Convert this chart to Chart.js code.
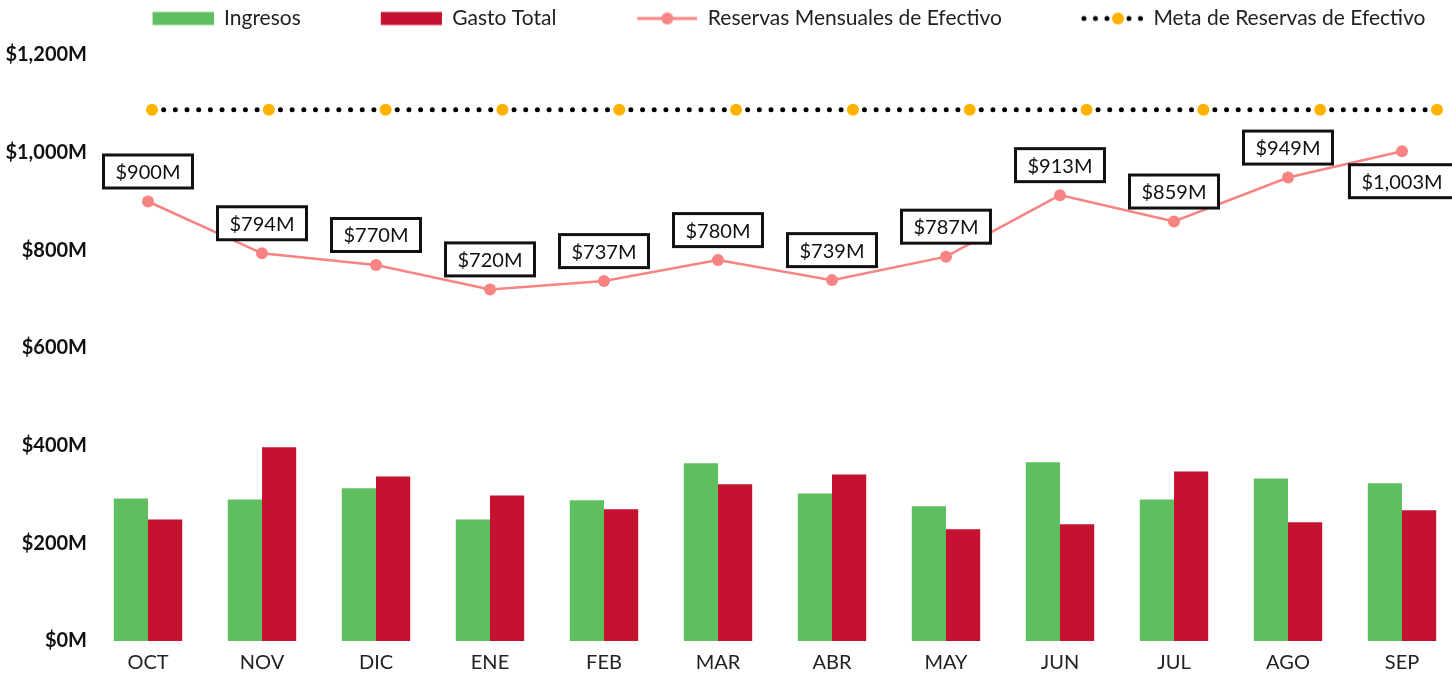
<!DOCTYPE html>
<html lang="es">
<head>
<meta charset="utf-8">
<title>Reservas Mensuales de Efectivo</title>
<script src="https://cdn.jsdelivr.net/npm/chart.js@4.4.1/dist/chart.umd.min.js"></script>
<style>
  html, body { margin: 0; padding: 0; background: #fff; overflow: hidden; }
  #wrap { width: 1506px; height: 674px; }
</style>
</head>
<body>
<div id="wrap"><canvas id="chart"></canvas></div>
<script>
// ─── DATOS ───────────────────────────────────────────
const meses        = ['OCT', 'NOV', 'DIC', 'ENE', 'FEB', 'MAR', 'ABR', 'MAY', 'JUN', 'JUL', 'AGO', 'SEP'];
const ingresos     = [292, 290, 313, 249, 288, 364, 302, 276, 366, 290, 333, 323];
const gastoTotal   = [249, 397, 337, 298, 270, 321, 341, 229, 239, 347, 243, 268];
const reservas     = [900, 794, 770, 720, 737, 780, 739, 787, 913, 859, 949, 1003];
const metaReservas = [1088, 1088, 1088, 1088, 1088, 1088, 1088, 1088, 1088, 1088, 1088, 1088];
const yMin = 0, yMax = 1200, yPaso = 200;

// ─── ESTILO ──────────────────────────────────────────
const VERDE   = '#5fbf60';
const ROJO    = '#c41230';
const CORAL   = '#f88383';
const NARANJA = '#ffb300';
const FUENTE  = 'Lato, "Noto Sans", sans-serif';
const GAP     = 72;   // hueco transparente a la izquierda de cada icono de leyenda
const AREA_DER = 1459;

const fmt = v => '$' + v.toLocaleString('en-US') + 'M';

// iconos de leyenda dibujados en canvas pequeños
function icono(draw) {
  const c = document.createElement('canvas');
  c.width = GAP + 61;
  c.height = 16;
  const g = c.getContext('2d');
  g.translate(GAP, 0);
  draw(g);
  return c;
}

const iconos = {
  'Ingresos': icono(g => { g.fillStyle = VERDE; g.fillRect(0, 1.5, 61, 13); }),
  'Gasto Total': icono(g => { g.fillStyle = ROJO; g.fillRect(0, 1.5, 61, 13); }),
  'Reservas Mensuales de Efectivo': icono(g => {
    g.strokeStyle = CORAL; g.lineWidth = 3;
    g.beginPath(); g.moveTo(1, 8); g.lineTo(61, 8); g.stroke();
    g.fillStyle = CORAL;
    g.beginPath(); g.arc(31, 8, 6, 0, Math.PI * 2); g.fill();
  }),
  'Meta de Reservas de Efectivo': icono(g => {
    [2, 13.5, 25, 47, 58.5].forEach(x => {
      g.fillStyle = '#000';
      g.beginPath(); g.arc(x, 8, 2.5, 0, Math.PI * 2); g.fill();
    });
    g.fillStyle = NARANJA;
    g.beginPath(); g.arc(36, 8, 6, 0, Math.PI * 2); g.fill();
  }),
};
// orden de la leyenda (índices de dataset)
const ordenLeyenda = [1, 2, 3, 0];

// ─── ETIQUETAS DE LA LÍNEA ───────────────────────────
const etiquetas = {
  id: 'etiquetas',
  afterDatasetsDraw(chart) {
    const meta = chart.getDatasetMeta(3);
    const yMeta = chart.scales.y.getPixelForValue(metaReservas[0]);
    const ctx = chart.ctx;
    ctx.save();
    ctx.font = '20px ' + FUENTE;
    ctx.textAlign = 'center';
    ctx.textBaseline = 'middle';
    meta.data.forEach((pt, i) => {
      const txt = fmt(reservas[i]);
      const w = ctx.measureText(txt).width + 24;
      const h = 33;
      let cy = pt.y - 30;
      // si choca con la línea de la meta, va debajo del punto
      if (cy - 18 < yMeta + 8) cy = pt.y + 30;
      ctx.fillStyle = '#fff';
      ctx.fillRect(pt.x - w / 2, cy - h / 2, w, h);
      ctx.lineWidth = 3;
      ctx.strokeStyle = '#111';
      ctx.strokeRect(pt.x - w / 2, cy - h / 2, w, h);
      ctx.fillStyle = '#111';
      ctx.fillText(txt, pt.x, cy + 1);
    });
    ctx.restore();
  }
};

// ─── GRÁFICO ─────────────────────────────────────────
const wrapW = document.getElementById('wrap').offsetWidth;

// la meta va primero: Chart.js 4.5 reparte el hueco de cada categoría entre los
// ejes x usados, así las dos barras quedan centradas en la categoría
new Chart(document.getElementById('chart'), {
  type: 'bar',
  data: {
    labels: meses,
    datasets: [
      {
        type: 'line', label: 'Meta de Reservas de Efectivo', xAxisID: 'x2',
        data: metaReservas.map((v, i) => ({ x: i, y: v })),
        borderColor: '#000', borderWidth: 5, borderDash: [0, 11.68], borderCapStyle: 'round',
        pointRadius: 6, pointBackgroundColor: NARANJA, pointBorderWidth: 0,
      },
      {
        type: 'bar', label: 'Ingresos', data: ingresos, xAxisID: 'x',
        backgroundColor: VERDE, barPercentage: 1, categoryPercentage: 1.2,
      },
      {
        type: 'bar', label: 'Gasto Total', data: gastoTotal, xAxisID: 'x',
        backgroundColor: ROJO, barPercentage: 1, categoryPercentage: 1.2,
      },
      {
        type: 'line', label: 'Reservas Mensuales de Efectivo', data: reservas, xAxisID: 'x',
        borderColor: CORAL, borderWidth: 2.5, tension: 0,
        pointRadius: 6, pointBackgroundColor: CORAL, pointBorderWidth: 0,
      },
    ],
  },
  options: {
    responsive: true,
    maintainAspectRatio: false,
    animation: false,
    plugins: {
      tooltip: { enabled: false },
      legend: {
        position: 'top',
        labels: {
          usePointStyle: true,
          pointStyleWidth: GAP + 61,
          boxHeight: 16,
          padding: 8,
          color: '#222',
          font: { family: FUENTE, size: 21 },
          generateLabels(chart) {
            const items = Chart.defaults.plugins.legend.labels.generateLabels(chart);
            items.forEach(it => { it.pointStyle = iconos[it.text]; });
            return items;
          },
          sort: (a, b) => ordenLeyenda.indexOf(a.datasetIndex) - ordenLeyenda.indexOf(b.datasetIndex),
        },
      },
    },
    scales: {
      x: {
        type: 'category',
        offset: true,
        grid: { display: false, drawTicks: false },
        border: { display: false },
        ticks: { color: '#222', padding: 10, font: { family: FUENTE, size: 20 } },
        afterFit(s) { s.height = 33; },
      },
      x2: {
        type: 'linear',
        position: 'top',
        offset: false,
        min: -0.522, max: 11.188,
        grid: { display: false, drawTicks: false, offset: false },
        border: { display: false },
        ticks: { display: false },
        afterFit(s) { s.height = 16; },
      },
      y: {
        min: yMin, max: yMax,
        grid: { display: false, drawTicks: false },
        border: { display: false },
        ticks: {
          stepSize: yPaso,
          padding: 4,
          color: '#111',
          font: { family: FUENTE, size: 20, weight: 'bold' },
          callback: v => fmt(v),
        },
        afterFit(s) { s.width = 91; },
      },
      // eje vacío a la derecha: solo reserva el margen derecho del área
      y2: {
        position: 'right',
        grid: { display: false, drawTicks: false },
        border: { display: false },
        ticks: { display: false },
        afterFit(s) { s.width = wrapW - AREA_DER; },
      },
    },
  },
  plugins: [etiquetas],
});
</script>
</body>
</html>
